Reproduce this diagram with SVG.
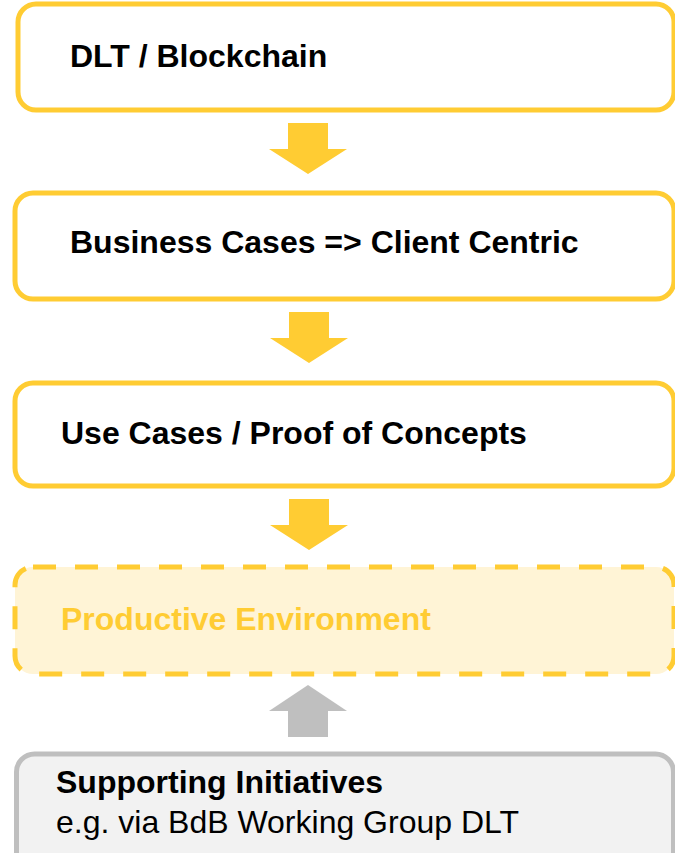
<svg xmlns="http://www.w3.org/2000/svg" width="675" height="853" viewBox="0 0 675 853">
<style>
.box{fill:#FFFFFF;stroke:#FFCC33;stroke-width:5}
.dash{fill:#FFF4D6;stroke:#FFCC33;stroke-width:5;stroke-dasharray:23 19}
.grey{fill:#F2F2F2;stroke:#BFBFBF;stroke-width:5}
.t{font-family:"Liberation Sans",Arial,sans-serif;font-size:32px;font-weight:bold;fill:#000000}
.ty{fill:#FFCC33}
.tr{font-family:"Liberation Sans",Arial,sans-serif;font-size:32px;fill:#000000}
.ay{fill:#FFCC33}
.ag{fill:#BFBFBF}
</style>
<rect width="675" height="853" fill="#FFFFFF"/>
<g id="connectors">
<polygon class="ay" points="288,123 328,123 328,149 347,149 308,174 269,149 288,149"/>
<polygon class="ay" points="289,312 329,312 329,338 348,338 309,363 270,338 289,338"/>
<polygon class="ay" points="289,499 329,499 329,525 348,525 309,550 270,525 289,525"/>
<polygon class="ag" points="308,685 347,711 328,711 328,737 288,737 288,711 269,711"/>
</g>
<g id="node-dlt">
<rect class="box" x="18" y="4" width="656" height="106" rx="18"/>
<text class="t" x="70" y="67">DLT / Blockchain</text>
</g>
<g id="node-business">
<rect class="box" x="15" y="193" width="659" height="106" rx="18"/>
<text class="t" x="70" y="253">Business Cases =&gt; Client Centric</text>
</g>
<g id="node-usecases">
<rect class="box" x="15" y="383" width="659" height="103" rx="18"/>
<text class="t" x="61" y="444">Use Cases / Proof of Concepts</text>
</g>
<g id="node-productive">
<rect class="dash" x="15" y="567" width="659" height="107" rx="18"/>
<text class="t ty" x="61" y="630">Productive Environment</text>
</g>
<g id="node-supporting">
<rect class="grey" x="16.5" y="754" width="657" height="120" rx="18"/>
<text class="t" x="56" y="793">Supporting Initiatives</text>
<text class="tr" x="56" y="833">e.g. via BdB Working Group DLT</text>
</g>
</svg>
